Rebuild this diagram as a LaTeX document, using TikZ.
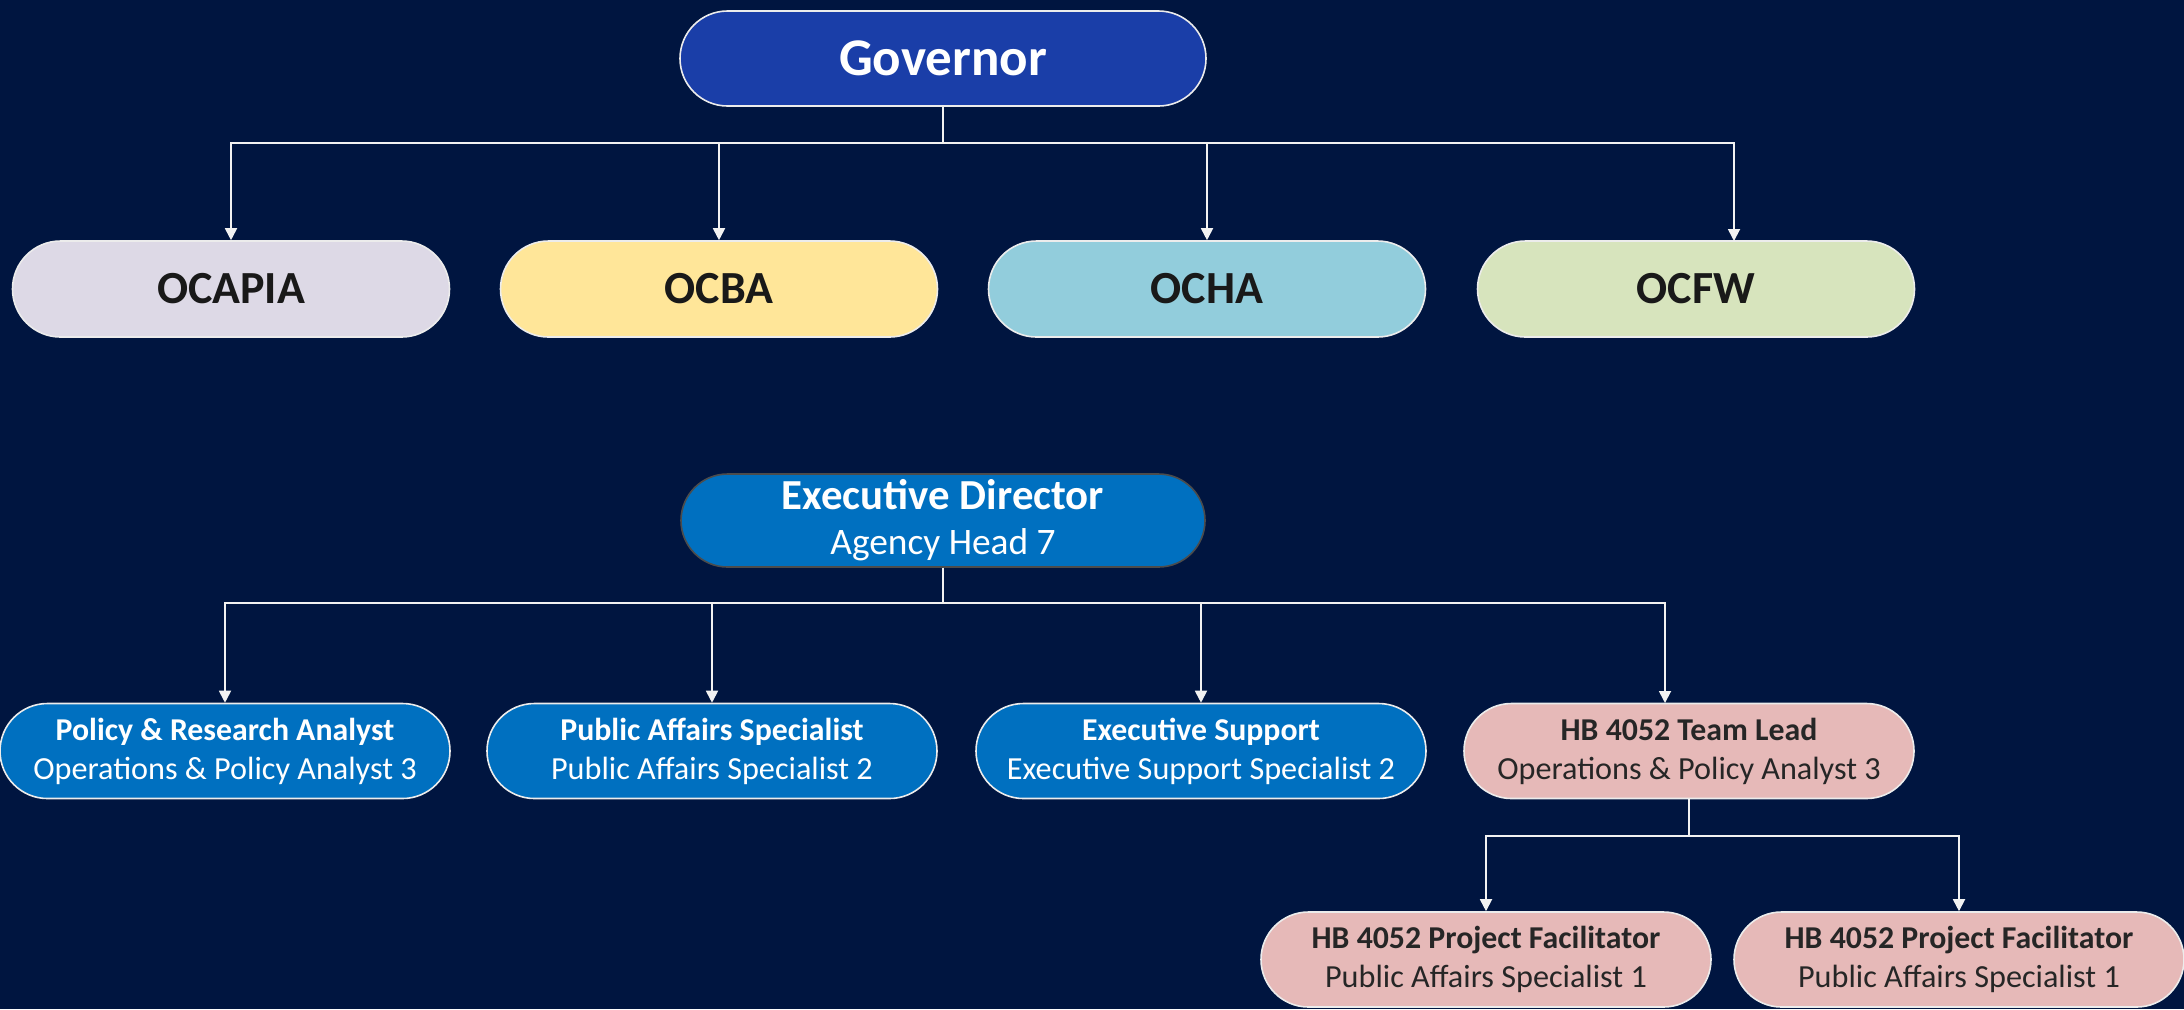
\documentclass[tikz,border=0pt]{standalone}
\usepackage{fontspec}
\setmainfont{Carlito}
\usetikzlibrary{shapes.misc,arrows.meta}

\definecolor{navy}{HTML}{001540}
\definecolor{govblue}{HTML}{1A3EA8}
\definecolor{staffblue}{HTML}{0070C0}
\definecolor{lavender}{HTML}{DDD9E6}
\definecolor{butter}{HTML}{FFE699}
\definecolor{skyteal}{HTML}{92CDDC}
\definecolor{sage}{HTML}{D7E4BD}
\definecolor{rosy}{HTML}{E6B9B8}

\begin{document}
\begin{tikzpicture}
    [x=0.5pt,y=-0.5pt,
     pill/.style={rounded rectangle,draw=white!85!gray,line width=0.8pt,inner sep=0pt,
                  align=center,minimum width=225pt,minimum height=47.5pt,
                  font=\fontsize{16.1}{19.5}\selectfont},
     office/.style={pill,minimum width=218.5pt,minimum height=48pt,
                    font=\fontsize{23}{27}\selectfont\bfseries,text=black!90},
     staff/.style={pill,fill=staffblue,text=white},
     team/.style={pill,fill=rosy,text=black!85},
     link/.style={white!90!gray,line width=0.9pt,-{Triangle[width=6pt,length=6pt]}}]
    \useasboundingbox [fill=navy] (0,0) rectangle (2184,1009);
    % top of the chart
    \node (gov) at (943,58.5) [pill,fill=govblue,text=white,minimum width=263pt,
        minimum height=47.5pt,font=\fontsize{26.5}{30}\selectfont\bfseries] {Governor};
    \node (ocapia) at (231,289)  [office,fill=lavender] {OCAPIA};
    \node (ocba)   at (719,289)  [office,fill=butter]   {OCBA};
    \node (ocha)   at (1207,289) [office,fill=skyteal]  {OCHA};
    \node (ocfw)   at (1696,289) [office,fill=sage]     {OCFW};
    \coordinate (ocfwtop) at (1734,241);
    \draw [link] (gov.south) -- ++(0,36) -| (ocapia.north);
    \draw [link] (gov.south) -- ++(0,36) -| (ocba.north);
    \draw [link] (gov.south) -- ++(0,36) -| (ocha.north);
    \draw [link] (gov.south) -- ++(0,36) -| (ocfwtop);
    % the agency staff
    \node (exec) at (943,520.5) [pill,fill=staffblue,draw=black!70,text=white,
        minimum width=262pt,minimum height=46.5pt,font=\fontsize{18.7}{22.5}\selectfont]
        {{\fontsize{21.4}{22.5}\selectfont\bfseries Executive Director}\\
         Agency Head 7};
    \node (policy) at (225,751) [staff]
        {{\fontsize{15.9}{19.5}\selectfont\bfseries Policy \& Research Analyst}\\
         Operations \& Policy Analyst 3};
    \node (pubaff) at (712,751) [staff]
        {{\fontsize{15.9}{19.5}\selectfont\bfseries Public Affairs Specialist}\\
         Public Affairs Specialist 2};
    \node (support) at (1201,751) [staff]
        {{\fontsize{15.9}{19.5}\selectfont\bfseries Executive Support}\\
         Executive Support Specialist 2};
    \node (lead) at (1689,751) [team]
        {{\fontsize{15.9}{19.5}\selectfont\bfseries HB 4052 Team Lead}\\
         Operations \& Policy Analyst 3};
    \coordinate (leadtop) at (1665,703);
    \draw [link] (exec.south) -- ++(0,35) -| (policy.north);
    \draw [link] (exec.south) -- ++(0,35) -| (pubaff.north);
    \draw [link] (exec.south) -- ++(0,35) -| (support.north);
    \draw [link] (exec.south) -- ++(0,35) -| (leadtop);
    % facilitators under the team lead
    \node (facil1) at (1486,959.5) [team]
        {{\fontsize{15.9}{19.5}\selectfont\bfseries HB 4052 Project Facilitator}\\
         Public Affairs Specialist 1};
    \node (facil2) at (1959,959.5) [team]
        {{\fontsize{15.9}{19.5}\selectfont\bfseries HB 4052 Project Facilitator}\\
         Public Affairs Specialist 1};
    \draw [link] (lead.south) -- ++(0,37) -| (facil1.north);
    \draw [link] (lead.south) -- ++(0,37) -| (facil2.north);
\end{tikzpicture}
\end{document}
